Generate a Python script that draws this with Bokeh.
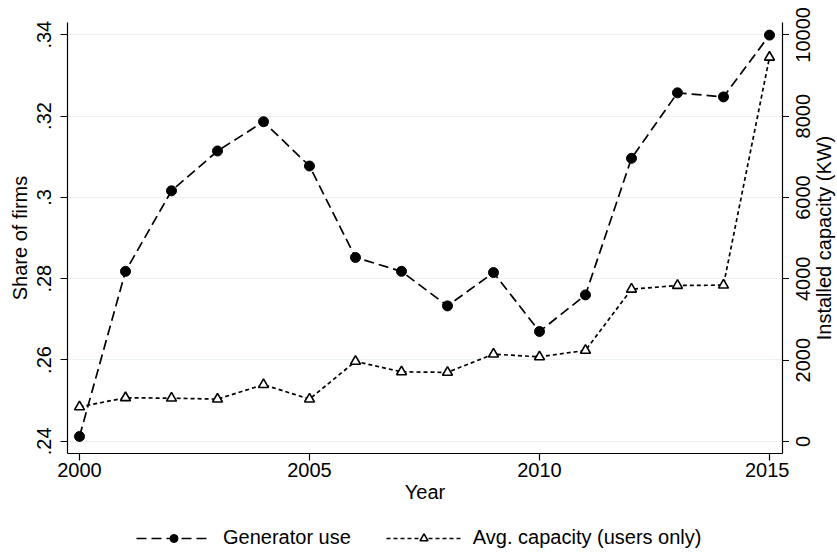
import math
from bokeh.plotting import figure
from bokeh.layouts import column, row
from bokeh.models import (Range1d, LinearAxis, FixedTicker, Legend, LegendItem,
                          CustomLabelingPolicy)
from bokeh.core.properties import value
from bokeh.embed import file_html
from bokeh.resources import INLINE

# ---------------- data ----------------
years = [2000, 2001, 2002, 2003, 2004, 2005, 2006, 2007,
         2008, 2009, 2010, 2011, 2012, 2013, 2014, 2015]
generator_use = [0.2412, 0.2818, 0.3016, 0.3114, 0.3186, 0.3077, 0.2852, 0.2818,
                 0.2733, 0.2815, 0.2670, 0.2760, 0.3096, 0.3257, 0.3247, 0.3399]
avg_capacity = [850, 1075, 1065, 1042, 1397, 1042, 1970, 1712,
                1700, 2148, 2081, 2241, 3744, 3837, 3845, 9450]

x_ticks = [2000, 2005, 2010, 2015]
left_ticks = [0.24, 0.26, 0.28, 0.30, 0.32, 0.34]
left_labels = [".24", ".26", ".28", ".3", ".32", ".34"]
right_ticks = [0, 2000, 4000, 6000, 8000, 10000]
right_labels = ["0", "2000", "4000", "6000", "8000", "10000"]

series_names = ["Generator use", "Avg. capacity (users only)"]
x_title = "Year"
left_title = "Share of firms"
right_title = "Installed capacity (KW)"

# axis limits (data units)
x_lo, x_hi = 1999.739, 2015.283
share_lo, share_hi = 0.2370, 0.3430
cap_lo, cap_hi = -296, 10305

# ---------------- layout / style ----------------
FONT = "Liberation Sans"
FS = "20px"
GRID = "#EAF2F3"
TOTAL_W, TOTAL_H = 836, 554
MAIN_W, TOP_H = 789, 510
FRAME_LEFT, FRAME_TOP, FRAME_BOTTOM = 67, 22, 453
STRIP_BORDER = 23


def no_frame_align(fig):
    try:
        fig.frame_align = False
    except Exception:
        pass


p = figure(width=MAIN_W, height=TOP_H, output_backend="svg", toolbar_location=None,
           x_range=Range1d(x_lo, x_hi), y_range=Range1d(share_lo, share_hi),
           min_border_left=FRAME_LEFT, min_border_right=0, min_border_top=FRAME_TOP,
           min_border_bottom=TOP_H - FRAME_BOTTOM)
p.extra_y_ranges = {"cap": Range1d(cap_lo, cap_hi)}
p.outline_line_color = None
p.background_fill_color = "white"
p.border_fill_color = "white"

r1 = p.line(years, generator_use, line_color="black", line_width=1.7, line_dash="10 5")
s1 = p.scatter(years, generator_use, marker="circle", size=10,
               fill_color="black", line_color="black")
r2 = p.line(years, avg_capacity, y_range_name="cap", line_color="black",
            line_width=1.7, line_dash="4 3")
s2 = p.scatter(years, avg_capacity, y_range_name="cap", marker="triangle", size=10,
               fill_color="white", line_color="black", line_width=1.6)


def style_axis(ax):
    ax.axis_line_color = "black"
    ax.axis_line_width = 1.2
    ax.major_tick_line_color = "black"
    ax.major_tick_line_width = 1.2
    ax.major_tick_out = 7
    ax.major_tick_in = 0
    ax.minor_tick_line_color = None
    ax.major_label_text_font = FONT
    ax.major_label_text_font_size = FS
    ax.major_label_text_color = "black"
    ax.axis_label_text_font = FONT
    ax.axis_label_text_font_size = FS
    ax.axis_label_text_font_style = "normal"
    ax.axis_label_text_color = "black"


# x axis
xa = p.xaxis[0]
style_axis(xa)
xa.ticker = FixedTicker(ticks=x_ticks)
xa.axis_label = x_title
xa.major_label_standoff = 2
xa.axis_label_standoff = 1

# left axis
ya = p.yaxis[0]
style_axis(ya)
ya.ticker = FixedTicker(ticks=left_ticks)
ya.major_label_overrides = {t: l for t, l in zip(left_ticks, left_labels)}
ya.major_label_orientation = "parallel"
ya.axis_label = left_title
ya.major_label_standoff = 9
ya.axis_label_standoff = 4

# right axis of the plot: line and ticks only (labels are drawn by the strip)
hide_all = CustomLabelingPolicy(code="for (const i of [...indices]) indices.unset(i)")
ra = LinearAxis(y_range_name="cap", ticker=FixedTicker(ticks=right_ticks))
style_axis(ra)
ra.major_label_orientation = "horizontal"
ra.major_label_overrides = {t: "" for t in right_ticks}
ra.major_label_policy = hide_all
ra.major_label_standoff = 0
p.add_layout(ra, "right")

# grid
p.xgrid.visible = False
p.ygrid.ticker = FixedTicker(ticks=left_ticks)
p.ygrid.grid_line_color = GRID
p.ygrid.grid_line_width = 1.2

# ---------------- right strip: right-axis labels and title, bottom-to-top ----------------
RW = TOTAL_W - MAIN_W
pr = figure(width=RW, height=TOP_H, output_backend="svg", toolbar_location=None,
            x_range=Range1d(0, RW - STRIP_BORDER), y_range=Range1d(cap_lo, cap_hi),
            min_border_left=STRIP_BORDER, min_border_right=0,
            min_border_top=FRAME_TOP, min_border_bottom=TOP_H - FRAME_BOTTOM,
            x_axis_type=None, y_axis_type=None)
pr.outline_line_color = None
pr.background_fill_color = "white"
pr.border_fill_color = "white"
la = LinearAxis(ticker=FixedTicker(ticks=right_ticks))
style_axis(la)
la.axis_line_color = None
la.major_tick_line_color = None
la.major_tick_out = 0
la.major_label_orientation = "parallel"
la.major_label_overrides = {t: l for t, l in zip(right_ticks, right_labels)}
la.major_label_standoff = 2
pr.add_layout(la, "left")
pr.text(x=[11], y=[(cap_lo + cap_hi) / 2], text=[right_title],
        angle=math.pi / 2, text_align="center", text_baseline="middle",
        text_font=value(FONT), text_font_size=value(FS), text_color="black")

# ---------------- legend strip ----------------
pl = figure(width=TOTAL_W, height=TOTAL_H - TOP_H, output_backend="svg",
            toolbar_location=None, x_range=Range1d(0, 1), y_range=Range1d(0, 1),
            min_border=0, x_axis_type=None, y_axis_type=None)
no_frame_align(pl)
pl.outline_line_color = None
pl.background_fill_color = "white"
pl.border_fill_color = "white"
# legend samples (the data lie outside this strip's ranges, so only the key shows)
lr1 = pl.line(years, generator_use, line_color="black", line_width=1.7, line_dash="10 5")
ls1 = pl.scatter(years, generator_use, marker="circle", size=10,
                 fill_color="black", line_color="black")
lr2 = pl.line(years, avg_capacity, line_color="black", line_width=1.7, line_dash="4 3")
ls2 = pl.scatter(years, avg_capacity, marker="triangle", size=10, fill_color="white",
                 line_color="black", line_width=1.6)
legend = Legend(items=[LegendItem(label=series_names[0], renderers=[lr1, ls1]),
                       LegendItem(label=series_names[1], renderers=[lr2, ls2])],
                orientation="horizontal", location=(136, 5),
                spacing=35, glyph_width=75, glyph_height=20, label_standoff=12,
                padding=0, margin=0, border_line_color=None,
                background_fill_alpha=0, label_text_font=FONT,
                label_text_font_size=FS, label_text_color="black")
pl.add_layout(legend, "center")

layout = column(row(p, pr), pl)
open("out.html", "w").write(file_html(layout, INLINE))
